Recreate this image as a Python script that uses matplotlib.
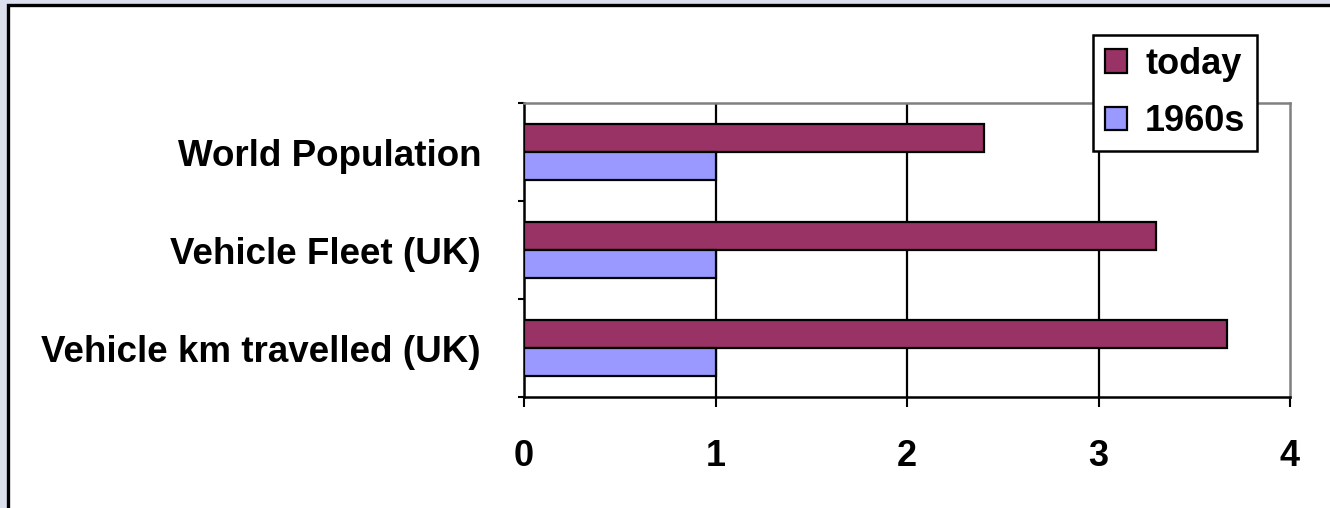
import matplotlib
matplotlib.use("Agg")
import matplotlib.pyplot as plt
from matplotlib.patches import Rectangle
import numpy as np

categories = ["World Population", "Vehicle Fleet (UK)", "Vehicle km travelled (UK)"]
today = [2.4, 3.3, 3.67]
sixties = [1.0, 1.0, 1.0]
xticks = [0, 1, 2, 3, 4]

W, H = 1330, 508
PX = 72 / 100  # points per pixel
plt.rcParams['font.family'] = ['Liberation Sans', 'DejaVu Sans']
fig = plt.figure(figsize=(W / 100, H / 100), dpi=100)
fig.patch.set_facecolor('#dcdfee')

# white frame
frame = Rectangle((8 / W, -0.1), 1.2, 1 - 5 / H + 0.1, transform=fig.transFigure,
                  facecolor='white', edgecolor='black', linewidth=2.4, zorder=-10)
fig.patches.append(frame)

ax = fig.add_axes([524 / W, 1 - 397 / H, (1290 - 524) / W, (397 - 103) / H])
ax.set_zorder(2)
ax.set_facecolor('white')

n = len(categories)
y = np.arange(n)[::-1].astype(float)
bh = 0.285
ax.barh(y + bh / 2, today, height=bh, color='#993366', edgecolor='black', linewidth=1.6,
        label='today', zorder=3)
ax.barh(y - bh / 2, sixties, height=bh, color='#9999FF', edgecolor='black', linewidth=1.6,
        label='1960s', zorder=3)

ax.set_xlim(0, 4)
ax.set_ylim(-0.5, n - 0.5)
ax.set_xticks(xticks)
ax.set_xticklabels([str(t) for t in xticks], fontsize=26, fontweight='bold')
ax.set_yticks(y)
ax.set_yticklabels(categories, fontsize=26.5, fontweight='bold')
ax.set_yticks(np.arange(n + 1) - 0.5, minor=True)
ax.tick_params(axis='y', which='major', length=0, pad=43 * PX)
ax.tick_params(axis='y', which='minor', length=6 * PX, width=1.5, direction='out', color='black')
ax.tick_params(axis='x', which='major', length=10 * PX, width=1.5, direction='out',
               pad=32 * PX, color='black')

for xv in xticks[1:-1]:
    ax.axvline(xv, color='black', linewidth=1.6, zorder=1)

for s in ['left', 'bottom']:
    ax.spines[s].set_color('black')
    ax.spines[s].set_linewidth(1.8)
for s in ['top', 'right']:
    ax.spines[s].set_color('#808080')
    ax.spines[s].set_linewidth(1.8)

leg = fig.legend(loc='upper left', bbox_to_anchor=(1093 / W, 1 - 35 / H),
                 prop={'size': 26, 'weight': 'bold'}, frameon=True, fancybox=False,
                 edgecolor='black', framealpha=1, handlelength=0.62, handleheight=0.62,
                 handletextpad=0.5, borderpad=0.32, labelspacing=0.62, borderaxespad=0)
leg.set_zorder(5)
leg.get_frame().set_linewidth(1.8)

fig.savefig('out.png', dpi=100, facecolor=fig.get_facecolor())
